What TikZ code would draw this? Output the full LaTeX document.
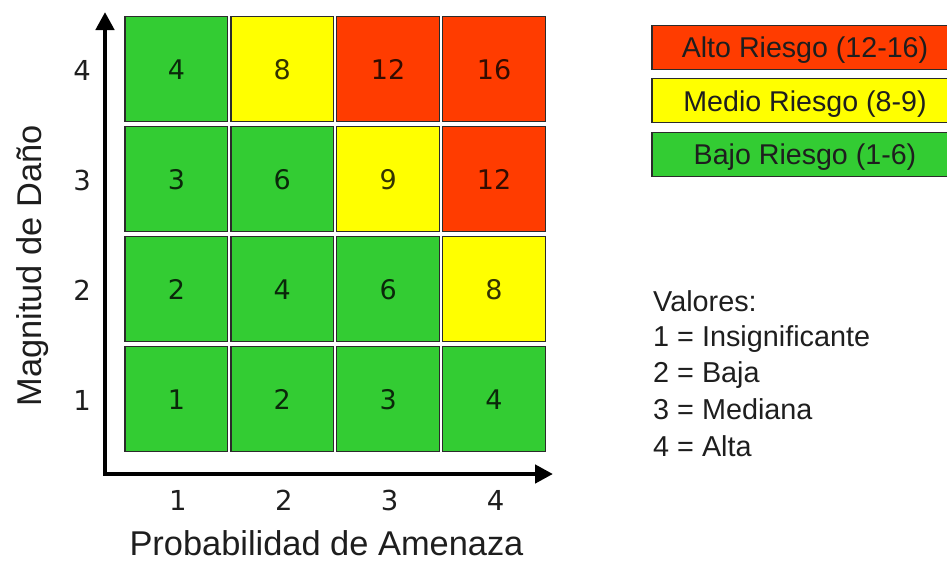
\documentclass[tikz,border=0pt]{standalone}
\usepackage{fontspec}
\setmainfont{Liberation Sans}
\newfontfamily\numfont{DejaVu Sans}
\usetikzlibrary{arrows.meta}
\definecolor{rgreen}{HTML}{33CC33}
\definecolor{ryellow}{HTML}{FFFF00}
\definecolor{rred}{HTML}{FF3C00}
\definecolor{edgec}{HTML}{2B2B2B}
\definecolor{txt}{HTML}{1E1E1E}
\begin{document}
\begin{tikzpicture}[x=1pt,y=-1pt,
  cell/.style={draw=edgec, line width=1.2pt, minimum width=102.7pt, minimum height=105pt,
    inner sep=0pt, text height=19.7pt, text depth=0pt,
    font=\numfont\fontsize{27}{27}\selectfont, text=black, text opacity=0.8},
  legbox/.style={draw=edgec, line width=1.2pt, minimum width=306pt, minimum height=44pt,
    inner sep=0pt, text height=20.5pt, text depth=0pt,
    font=\fontsize{28.6}{28.6}\selectfont, text=txt},
  tick/.style={inner sep=0pt, text height=20pt, text depth=0pt,
    font=\numfont\fontsize{27.5}{27.5}\selectfont, text=txt},
  axtitle/.style={inner sep=0pt, text depth=0pt, font=\fontsize{34.4}{34.4}\selectfont, text=txt},
  valline/.style={inner sep=0pt, anchor=base west, font=\fontsize{28.8}{28.8}\selectfont, text=txt},
  axis/.style={line width=4.5pt, line join=miter, draw=black,
    {Triangle[length=18pt,width=18pt]}-{Triangle[length=18pt,width=18pt]}}
]
\useasboundingbox (0,0) rectangle (947,563);
\clip (0,0) rectangle (947,563);

% grid cells: row (from top), column, value, colour
\foreach \r/\c/\v/\col in {
  1/1/4/rgreen, 1/2/8/ryellow, 1/3/12/rred, 1/4/16/rred,
  2/1/3/rgreen, 2/2/6/rgreen, 2/3/9/ryellow, 2/4/12/rred,
  3/1/2/rgreen, 3/2/4/rgreen, 3/3/6/rgreen, 3/4/8/ryellow,
  4/1/1/rgreen, 4/2/2/rgreen, 4/3/3/rgreen, 4/4/4/rgreen}
  \node[cell, fill=\col] (cell-\r-\c) at ({176.35+105.9*(\c-1)}, {69.2+110*(\r-1)}) {\v};

% axes
\coordinate (ytop) at (105,12);
\coordinate (origin) at (105,474);
\coordinate (xend) at (553,474);
\draw[axis] (ytop) -- (origin) -- (xend);

% tick labels
\foreach \c in {1,2,3,4}
  \node[tick] (xt-\c) at ({176.35+105.9*(\c-1)+1.5}, 500) {\c};
\foreach \r/\m in {1/4,2/3,3/2,4/1}
  \node[tick] (yt-\m) at (82, {69.2+110*(\r-1)+1.5}) {\m};

% axis titles
\node[axtitle, anchor=base] (xtitle) at (326.5,555.5) {Probabilidad de Amenaza};
\node[axtitle, anchor=base, rotate=90] (ytitle) at (41.7,266) {Magnitud de Daño};

% legend
\node[legbox, fill=rred] (leg-alto) at (805,47.5) {Alto Riesgo (12-16)};
\node[legbox, fill=ryellow] (leg-medio) at (805,100.8) {Medio Riesgo (8-9)};
\node[legbox, fill=rgreen] (leg-bajo) at (805,154.5) {Bajo Riesgo (1-6)};

% values
\node[valline] (val-0) at (653,311.7) {Valores:};
\node[valline] (val-1) at (653,346.5) {1 = Insignificante};
\node[valline] (val-2) at (653,382.7) {2 = Baja};
\node[valline] (val-3) at (653,419.5) {3 = Mediana};
\node[valline] (val-4) at (653,456.5) {4 = Alta};
\end{tikzpicture}
\end{document}
